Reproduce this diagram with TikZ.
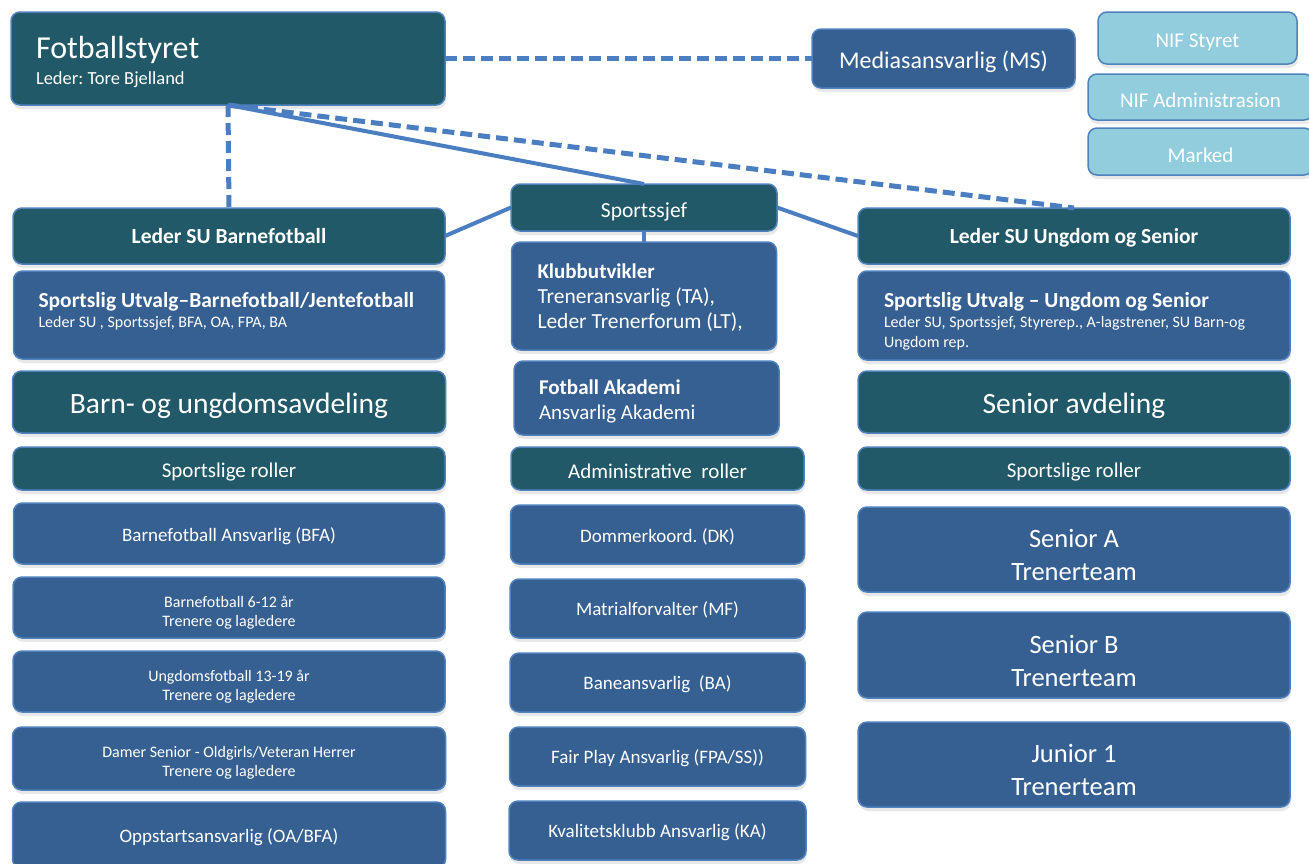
\documentclass[tikz,border=0pt]{standalone}
\usepackage{fontspec}
\setmainfont{Carlito}
\usetikzlibrary{positioning,shadows}

\definecolor{petrol}{RGB}{33,89,104}
\definecolor{royal}{RGB}{54,96,146}
\definecolor{sky}{RGB}{146,205,222}
\definecolor{rim}{RGB}{79,129,189}
\definecolor{wire}{RGB}{74,126,193}

\tikzset{
    card/.style={
        draw=rim,
        line width=1.5pt,
        rounded corners=9pt,
        text=white,
        inner sep=0pt,
        outer sep=0pt,
        align=flush center,
        anchor=north west,
        drop shadow={shadow xshift=1pt, shadow yshift=-4pt, opacity=0.18}
    },
    darkcard/.style={card, fill=petrol},
    bluecard/.style={card, fill=royal},
    palecard/.style={card, fill=sky},
    % baseline #1 pt below the middle of the box
    % (first line with text width, last line without)
    baseat/.code={
        \pgfmathsetmacro\baskk{max(20,abs(#1))}
        \pgfmathsetmacro\bashi{\baskk+#1}
        \pgfmathsetmacro\basdp{\baskk-#1}
        \edef\tmpbase{\noexpand\tikzset{text height=\bashi pt, text depth=\basdp pt}}
        \tmpbase
    },
    link/.style={draw=wire, line width=4pt},
    dashlink/.style={link, line width=5pt, dash pattern=on 12pt off 6pt}
}

\newcommand{\sz}[2]{\fontsize{#1}{#2}\selectfont}

\begin{document}
\frenchspacing
\begin{tikzpicture}[x=1pt, y=-1pt]
    \useasboundingbox (0,0) rectangle (1309,863);

    % top row
    \node[
        darkcard,
        minimum width=434pt,
        minimum height=93pt,
        text width=384pt,
        inner xsep=25pt,
        align=flush left,
        baseat=-0.5,
        font=\sz{18.5}{26}
    ](styret) at (11,12){{\sz{32}{26}Fotballstyret}\\Leder: Tore Bjelland};

    \node[
        bluecard,
        minimum width=263pt,
        minimum height=59pt,
        baseat=9.5,
        font=\sz{24}{28}
    ](media) at (812,29){Mediasansvarlig (MS)};

    \node[
        palecard,
        minimum width=199pt,
        minimum height=52pt,
        baseat=9,
        font=\sz{21}{24}
    ](nifstyret) at (1098,12){NIF Styret};

    \node[
        palecard,
        minimum width=225pt,
        minimum height=46pt,
        baseat=10.5,
        font=\sz{21}{24}
    ](nifadm) at (1088,74){NIF Administrasion};

    \node[
        palecard,
        below=8pt of nifadm,
        minimum width=225pt,
        minimum height=47pt,
        baseat=10.5,
        font=\sz{21}{24}
    ](marked){Marked};

    % left column
    \node[
        darkcard,
        minimum width=432pt,
        minimum height=56pt,
        baseat=7,
        font=\sz{21.5}{24}\bfseries
    ](barnleder) at (13,208){Leder SU Barnefotball};

    \node[
        bluecard,
        below=7pt of barnleder,
        minimum width=431pt,
        minimum height=88pt,
        text width=381pt,
        inner xsep=25pt,
        align=flush left,
        baseat=-8,
        font=\sz{16}{20}
    ](utvalgbarn){{\sz{21.5}{20}\bfseries Sportslig Utvalg–Barnefotball/Jentefotball}\\Leder SU , Sportssjef, BFA, OA, FPA, BA};

    \node[
        darkcard,
        below=12pt of utvalgbarn,
        minimum width=433pt,
        minimum height=62pt,
        baseat=11,
        font=\sz{29.5}{34}
    ](barnavd){Barn- og ungdomsavdeling};

    \node[
        darkcard,
        below=14pt of barnavd,
        minimum width=432pt,
        minimum height=43pt,
        baseat=8.5,
        font=\sz{21}{24}
    ](rollerbarn){Sportslige roller};

    \node[
        bluecard,
        below=13pt of rollerbarn,
        minimum width=431pt,
        minimum height=61pt,
        baseat=7.5,
        font=\sz{19}{22}
    ](bfa){Barnefotball Ansvarlig (BFA)};

    \node[
        bluecard,
        below=13pt of bfa,
        minimum width=432pt,
        minimum height=61pt,
        baseat=18.5,
        font=\sz{16}{19}
    ](barn612){Barnefotball 6-12 år\\Trenere og lagledere};

    \node[
        bluecard,
        below=13pt of barn612,
        minimum width=432pt,
        minimum height=61pt,
        baseat=18.5,
        font=\sz{16}{19}
    ](ungdom1319){Ungdomsfotball 13-19 år\\Trenere og lagledere};

    \node[
        bluecard,
        below=15pt of ungdom1319,
        minimum width=433pt,
        minimum height=63pt,
        baseat=17.5,
        font=\sz{16}{19}
    ](damer){Damer Senior - Oldgirls/Veteran Herrer\\Trenere og lagledere};

    \node[
        bluecard,
        below=12pt of damer,
        minimum width=433pt,
        minimum height=66pt,
        baseat=7,
        font=\sz{19}{22}
    ](oppstart){Oppstartsansvarlig (OA/BFA)};

    % middle column
    \node[
        darkcard,
        minimum width=266pt,
        minimum height=47pt,
        baseat=9.5,
        font=\sz{21.5}{24}
    ](sjef) at (511,184){Sportssjef};

    \node[
        bluecard,
        below=11pt of sjef,
        minimum width=265pt,
        minimum height=108pt,
        text width=213pt,
        inner xsep=26pt,
        align=flush left,
        baseat=-18,
        font=\sz{21.5}{25}
    ](klubb){{\bfseries\sz{21}{25}Klubbutvikler}\\Treneransvarlig (TA),\\Leder Trenerforum (LT),};

    \node[
        bluecard,
        minimum width=265pt,
        minimum height=74pt,
        text width=215pt,
        inner xsep=25pt,
        align=flush left,
        baseat=-4,
        font=\sz{21}{25}
    ](akademi) at (514,361){{\bfseries Fotball Akademi}\\Ansvarlig Akademi};

    \node[
        darkcard,
        minimum width=293pt,
        minimum height=43pt,
        baseat=9.5,
        font=\sz{21}{24}
    ](admin) at (511,447){Administrative\ \ roller};

    \node[
        bluecard,
        below=15pt of admin,
        minimum width=294pt,
        minimum height=59pt,
        baseat=7.5,
        font=\sz{19}{22}
    ](dk){Dommerkoord. (DK)};

    \node[
        bluecard,
        below=15pt of dk,
        minimum width=295pt,
        minimum height=59pt,
        baseat=6.5,
        font=\sz{19}{22}
    ](mf){Matrialforvalter (MF)};

    \node[
        bluecard,
        below=15pt of mf,
        minimum width=295pt,
        minimum height=59pt,
        baseat=6.5,
        font=\sz{19}{22}
    ](ba){Baneansvarlig\ \ (BA)};

    \node[
        bluecard,
        below=15pt of ba,
        minimum width=296pt,
        minimum height=59pt,
        baseat=6.5,
        font=\sz{19}{22}
    ](fpa){Fair Play Ansvarlig (FPA/SS))};

    \node[
        bluecard,
        below=15pt of fpa,
        minimum width=297pt,
        minimum height=59pt,
        baseat=6.5,
        font=\sz{19}{22}
    ](ka){Kvalitetsklubb Ansvarlig (KA)};

    % right column
    \node[
        darkcard,
        minimum width=432pt,
        minimum height=56pt,
        baseat=7,
        font=\sz{21.5}{24}\bfseries
    ](ungleder) at (858,208){Leder SU Ungdom og Senior};

    \node[
        bluecard,
        below=7pt of ungleder,
        minimum width=432pt,
        minimum height=89pt,
        text width=380pt,
        inner xsep=26pt,
        align=flush left,
        baseat=-8.5,
        font=\sz{16}{20}
    ](utvalgung){{\sz{21.5}{20}\bfseries Sportslig Utvalg – Ungdom og Senior}\\Leder SU, Sportssjef, Styrerep., A-lagstrener, SU Barn-og\\Ungdom rep.};

    \node[
        darkcard,
        below=11pt of utvalgung,
        minimum width=432pt,
        minimum height=62pt,
        baseat=11,
        font=\sz{29.5}{34}
    ](senavd){Senior avdeling};

    \node[
        darkcard,
        below=14pt of senavd,
        minimum width=432pt,
        minimum height=43pt,
        baseat=8.5,
        font=\sz{21}{24}
    ](rollerung){Sportslige roller};

    \node[
        bluecard,
        below=17pt of rollerung,
        minimum width=432pt,
        minimum height=85pt,
        baseat=30.5,
        font=\sz{26.5}{33}
    ](sena){Senior A\\Trenerteam};

    \node[
        bluecard,
        below=20pt of sena,
        minimum width=432pt,
        minimum height=86pt,
        baseat=31,
        font=\sz{26.5}{33}
    ](senb){Senior B\\Trenerteam};

    \node[
        bluecard,
        below=24pt of senb,
        minimum width=432pt,
        minimum height=85pt,
        baseat=30.5,
        font=\sz{26.5}{33}
    ](junior){Junior 1\\Trenerteam};

    % connectors
    \draw[dashlink](styret.east) -- (media.west);
    \draw[dashlink](styret.south) -- (barnleder.north);
    \draw[dashlink](styret.south) -- (ungleder.north);
    \draw[link](styret.south) -- (sjef.north);
    \draw[link](barnleder.east) -- (sjef.west);
    \draw[link](sjef.east) -- (ungleder.west);
    \draw[link](sjef.south) -- (klubb.north);
\end{tikzpicture}
\end{document}
